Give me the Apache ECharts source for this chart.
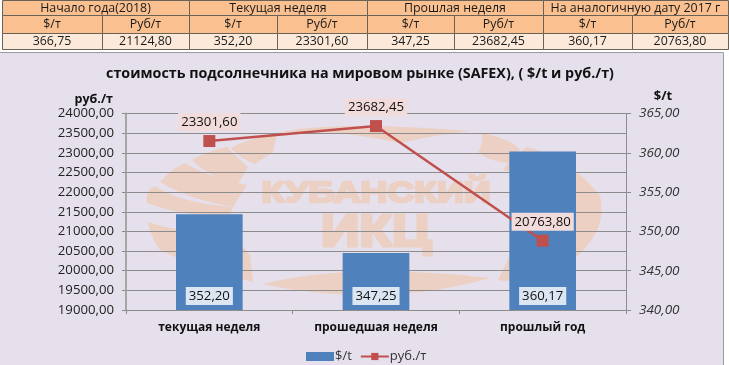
<!DOCTYPE html>
<html><head><meta charset="utf-8">
<script src="https://cdn.jsdelivr.net/npm/echarts@6/dist/echarts.min.js"></script>
<style>html,body{margin:0;padding:0;background:#fff}#c{width:729px;height:365px}</style>
</head><body><div id="c"></div>
<script>
const categories = ['текущая неделя','прошедшая неделя','прошлый год'];
const usdValues = [352.20, 347.25, 360.17];
const rubValues = [23301.60, 23682.45, 20763.80];
const tableGroups = ['Начало года(2018)','Текущая неделя','Прошлая неделя','На аналогичную дату 2017 г'];
const tableUnits = ['$/т','Руб/т','$/т','Руб/т','$/т','Руб/т','$/т','Руб/т'];
const tableValues = ['366,75','21124,80','352,20','23301,60','347,25','23682,45','360,17','20763,80'];

const FONT = '"Open Sans", "Noto Sans", sans-serif';
const fmt = v => Number(v).toFixed(2).replace('.', ',');
const colEdges = [2,102,189,277,367,454,543,632,728];
const rowEdges = [0,15,33,49];
const g = [];
const LINE = '#6b6257';
function cell(x0,y0,x1,y1,fill,txt){
  g.push({type:'rect',silent:true,z:1,shape:{x:x0+.5,y:y0+.5,width:x1-x0,height:y1-y0},style:{fill:fill,stroke:LINE,lineWidth:1}});
  g.push({type:'text',silent:true,z:2,style:{x:(x0+x1)/2,y:(y0+y1)/2+.5,text:txt,fill:'#1a1a1a',font:'12.4px '+FONT,align:'center',verticalAlign:'middle'}});
}
tableGroups.forEach((t,i)=>cell(colEdges[i*2],rowEdges[0],colEdges[i*2+2],rowEdges[1],'#FAC090',t));
tableUnits.forEach((t,i)=>cell(colEdges[i],rowEdges[1],colEdges[i+1],rowEdges[2],'#FAC090',t));
tableValues.forEach((t,i)=>cell(colEdges[i],rowEdges[2],colEdges[i+1],rowEdges[3],'#FDE9D9',t));
// chart panel
g.push({type:'rect',silent:true,z:0,shape:{x:-2,y:52.5,width:725.5,height:320},style:{fill:'#E6E0EC',stroke:'#9a9a9a',lineWidth:1}});
// watermark: outline strings sampled into polygons
const WM='#EBD0C3';
function outline(d){
  const t=d.trim().split(/\s+/), pts=[]; let i=0, cur=[0,0];
  const xy=s=>s.split(',').map(Number);
  while(i<t.length){
    const c=t[i][0], rest=t[i].slice(1);
    if(c==='Z'){i++;continue;}
    if(c==='M'||c==='L'){cur=xy(rest);pts.push(cur);i++;}
    else if(c==='Q'){
      const a=xy(rest), b=xy(t[i+1]);
      for(let k=1;k<=12;k++){const u=k/12,v=1-u;
        pts.push([v*v*cur[0]+2*u*v*a[0]+u*u*b[0], v*v*cur[1]+2*u*v*a[1]+u*u*b[1]]);}
      cur=b;i+=2;
    } else i++;
  }
  return pts;
}
[
 'M147,203 Q145,190 155,186 Q180,203 233,207 L229,216 Q180,216 147,203 Z',
 'M160,182 Q170,170 185,163 Q210,178 247,185 L233,207 Q190,200 160,182 Z',
 'M192,160 Q205,152 227,147 Q240,160 248,167 L238,184 Q210,178 192,160 Z',
 'M231,148 Q250,138 277,133 L273,152 L255,164 Q240,158 231,148 Z',
 'M277,133 Q330,120 470,131 Q430,136 400,143 Q330,128 277,133 Z',
 'M478,152 Q485,140 481,133 Q510,138 520,150 L510,163 Q490,162 478,152 Z',
 'M503,170 Q510,158 527,147 Q570,158 600,196 Q610,235 560,270 Q530,285 498,280 Q510,255 520,235 L575,200 Q560,185 503,170 Z',
 'M148,222 Q190,235 230,232 L250,255 L253,282 Q190,265 160,250 Q150,235 148,222 Z',
 'M263,284 Q310,272 375,271 Q440,272 490,278 Q430,295 370,295 Q310,295 263,284 Z'
].forEach(p=>g.push({type:'polygon',silent:true,z:0,shape:{points:outline(p)},style:{fill:WM}}));
g.push({type:'text',silent:true,z:0,x:376,y:193.5,scaleX:1.2,scaleY:0.95,style:{x:0,y:0,text:'КУБАНСКИЙ',fill:WM,stroke:WM,lineWidth:2.5,font:'900 31px "Liberation Sans", sans-serif',align:'center',verticalAlign:'middle'}});
g.push({type:'text',silent:true,z:0,x:376,y:233.5,scaleX:1.22,scaleY:1.0,style:{x:0,y:0,text:'ИКЦ',fill:WM,stroke:WM,lineWidth:3,font:'900 44px "Liberation Sans", sans-serif',align:'center',verticalAlign:'middle'}});
// title
g.push({type:'text',silent:true,z:2,style:{x:360,y:74,text:'стоимость подсолнечника на мировом рынке (SAFEX), ( $/t и руб./т)',fill:'#111',font:'bold 14.3px '+FONT,align:'center',verticalAlign:'middle'}});

const chart = echarts.init(document.getElementById('c'),null,{renderer:'canvas'});
chart.setOption({
  animation:false,
  backgroundColor:'#fff',
  graphic:{elements:g},
  grid:{left:126,right:103,top:113.6,bottom:55,containLabel:false},
  legend:{left:301,top:345,itemGap:8,itemWidth:28,itemHeight:9,selectedMode:false,
    textStyle:{fontFamily:FONT,fontSize:13,color:'#333',padding:[0,0,0,-4]},
    data:[{name:'$/t',icon:'rect'},{name:'руб./т',itemStyle:{color:'#C0504D'}}]},
  xAxis:{type:'category',data:categories,
    axisLine:{lineStyle:{color:'#8c8c8c',width:1}},
    axisTick:{show:true,alignWithLabel:false,length:4,lineStyle:{color:'#8c8c8c'}},
    axisLabel:{fontFamily:FONT,fontSize:12,fontWeight:'bold',color:'#111',margin:12},
    splitLine:{show:false}},
  yAxis:[
   {type:'value',min:19000,max:24000,interval:500,position:'left',
    name:'руб./т',nameLocation:'end',nameGap:8,
    nameTextStyle:{fontFamily:FONT,fontSize:12.5,fontWeight:'bold',color:'#111',align:'right',padding:[0,13,0,0]},
    axisLine:{show:true,lineStyle:{color:'#a6a6a6',width:2}},
    axisTick:{show:true,length:4,lineStyle:{color:'#8c8c8c'}},
    axisLabel:{fontFamily:FONT,fontSize:13.2,color:'#222',margin:12,formatter:fmt},
    splitLine:{show:true,lineStyle:{color:'#8c8c8c',width:1}}},
   {type:'value',min:340,max:365,interval:5,position:'right',
    name:'$/t',nameLocation:'end',nameGap:11,
    nameTextStyle:{fontFamily:FONT,fontSize:13,fontWeight:'bold',color:'#111',padding:[0,0,0,74]},
    axisLine:{show:true,lineStyle:{color:'#8c8c8c',width:1}},
    axisTick:{show:true,length:5,lineStyle:{color:'#8c8c8c'}},
    axisLabel:{fontFamily:FONT,fontSize:13.5,fontStyle:'italic',color:'#333',margin:13,formatter:fmt},
    splitLine:{show:false}}
  ],
  series:[
   {name:'$/t',type:'bar',yAxisIndex:1,data:usdValues,barWidth:'40%',
    itemStyle:{color:'#4F81BD'},
    label:{show:true,position:'insideBottom',distance:5,formatter:p=>fmt(p.value),
      fontFamily:FONT,fontSize:13.2,color:'#111',backgroundColor:'#DCE6F2',padding:[3,3,2,3]}},
   {name:'руб./т',type:'line',yAxisIndex:0,data:rubValues,symbol:'rect',symbolSize:12,
    lineStyle:{color:'#C0504D',width:2.5},itemStyle:{color:'#C0504D'},
    label:{show:true,position:'top',distance:4,formatter:p=>fmt(p.value),
      fontFamily:FONT,fontSize:13.2,color:'#111',backgroundColor:'#F2DCDB',padding:[3,3,2,3]}}
  ]
});
</script></body></html>
